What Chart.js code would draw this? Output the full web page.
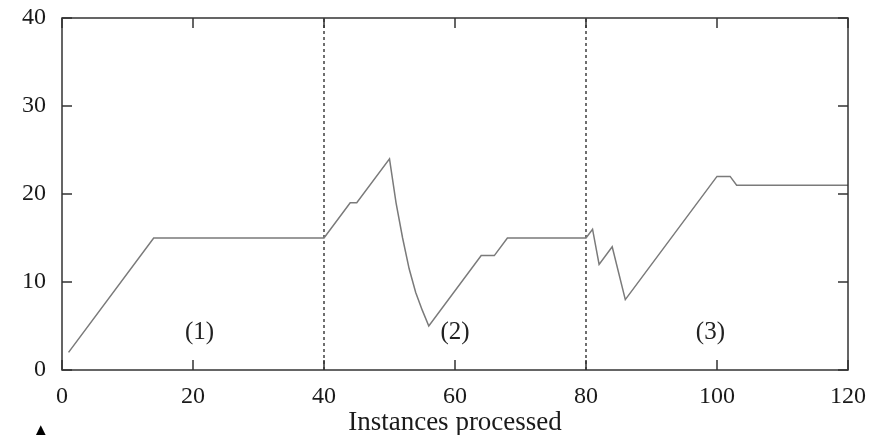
<!DOCTYPE html>
<html>
<head>
<meta charset="utf-8">
<script src="https://cdn.jsdelivr.net/npm/chart.js@4"></script>
<style>
  html, body { margin: 0; padding: 0; background: #fff; }
  #wrap { position: relative; width: 881px; height: 435px; overflow: hidden; }
  #mark { position: absolute; left: 35px; top: 420px; font: 15px "DejaVu Sans", sans-serif; line-height: 20px; color: #000; }
</style>
</head>
<body>
<div id="wrap">
  <canvas id="myChart" width="881" height="435"></canvas>
  <div id="mark">▲</div>
</div>
<script>
// instances processed vs value (breakpoints)
const xValues = [1, 14, 40, 44, 45, 50, 51, 52, 53, 54, 55, 56, 64, 66, 68, 80, 81, 82, 84, 86, 100, 102, 103, 120];
const yValues = [2, 15, 15, 19, 19, 24, 19, 15, 11.5, 8.8, 6.8, 5, 13, 13, 15, 15, 16, 12, 14, 8, 22, 22, 21, 21];

const phaseBounds = [40, 80];
const phaseLabels = ["(1)", "(2)", "(3)"];
const phaseLabelX = [21, 60, 99];
const phaseLabelY = 4.3;

const xTitle = "Instances processed";

const serif = '"Liberation Serif", "Times New Roman", serif';

const points = xValues.map((x, i) => ({ x: x, y: yValues[i] }));

const boundSets = phaseBounds.map((b) => ({
  data: [{ x: b, y: 0 }, { x: b, y: 40 }],
  borderColor: "#111",
  borderWidth: 1.2,
  borderDash: [3, 3],
  pointRadius: 0,
  fill: false,
}));

// frame with inward ticks on all four sides + phase labels
const framePlugin = {
  id: "frame",
  afterDatasetsDraw(chart) {
    const ctx = chart.ctx;
    const a = chart.chartArea;
    const xs = chart.scales.x;
    const ys = chart.scales.y;
    ctx.save();
    ctx.strokeStyle = "#333";
    ctx.lineWidth = 1.5;
    ctx.strokeRect(a.left, a.top, a.right - a.left, a.bottom - a.top);
    ctx.beginPath();
    xs.ticks.forEach((t) => {
      const px = xs.getPixelForValue(t.value);
      ctx.moveTo(px, a.bottom);
      ctx.lineTo(px, a.bottom - 10);
      ctx.moveTo(px, a.top);
      ctx.lineTo(px, a.top + 10);
    });
    ys.ticks.forEach((t) => {
      const py = ys.getPixelForValue(t.value);
      ctx.moveTo(a.left, py);
      ctx.lineTo(a.left + 10, py);
      ctx.moveTo(a.right, py);
      ctx.lineTo(a.right - 10, py);
    });
    ctx.stroke();

    ctx.fillStyle = "#222";
    ctx.font = "25px " + serif;
    ctx.textAlign = "center";
    ctx.textBaseline = "middle";
    phaseLabels.forEach((lab, i) => {
      ctx.fillText(lab, xs.getPixelForValue(phaseLabelX[i]), ys.getPixelForValue(phaseLabelY));
    });
    ctx.restore();
  },
};

const ctx = document.getElementById("myChart").getContext("2d");
const myChart = new Chart(ctx, {
  type: "line",
  data: {
    datasets: [
      {
        data: points,
        borderColor: "#7a7a7a",
        borderWidth: 1.5,
        pointRadius: 0,
        fill: false,
        tension: 0,
      },
    ].concat(boundSets),
  },
  options: {
    responsive: false,
    animation: false,
    events: [],
    layout: { padding: { top: 18, right: 33, left: 0, bottom: 0 } },
    plugins: { legend: { display: false }, tooltip: { enabled: false } },
    scales: {
      x: {
        type: "linear",
        min: 0,
        max: 120,
        grid: { display: false, drawTicks: false },
        border: { display: false },
        ticks: { stepSize: 20, padding: 12, color: "#1a1a1a", font: { family: serif, size: 24 } },
        title: { display: true, text: xTitle, color: "#1a1a1a", padding: { top: -4, bottom: -4 }, font: { family: serif, size: 27 } },
        afterFit(scale) {
          scale.height = 65;
          scale.paddingLeft = 0;
          scale.paddingRight = 0;
        },
      },
      y: {
        min: 0,
        max: 40,
        grid: { display: false, drawTicks: false },
        border: { display: false },
        ticks: { stepSize: 10, padding: 16, color: "#1a1a1a", font: { family: serif, size: 24 } },
        afterFit(scale) {
          scale.width = 62;
          scale.paddingTop = 0;
          scale.paddingBottom = 0;
        },
      },
    },
  },
  plugins: [framePlugin],
});
</script>
</body>
</html>
